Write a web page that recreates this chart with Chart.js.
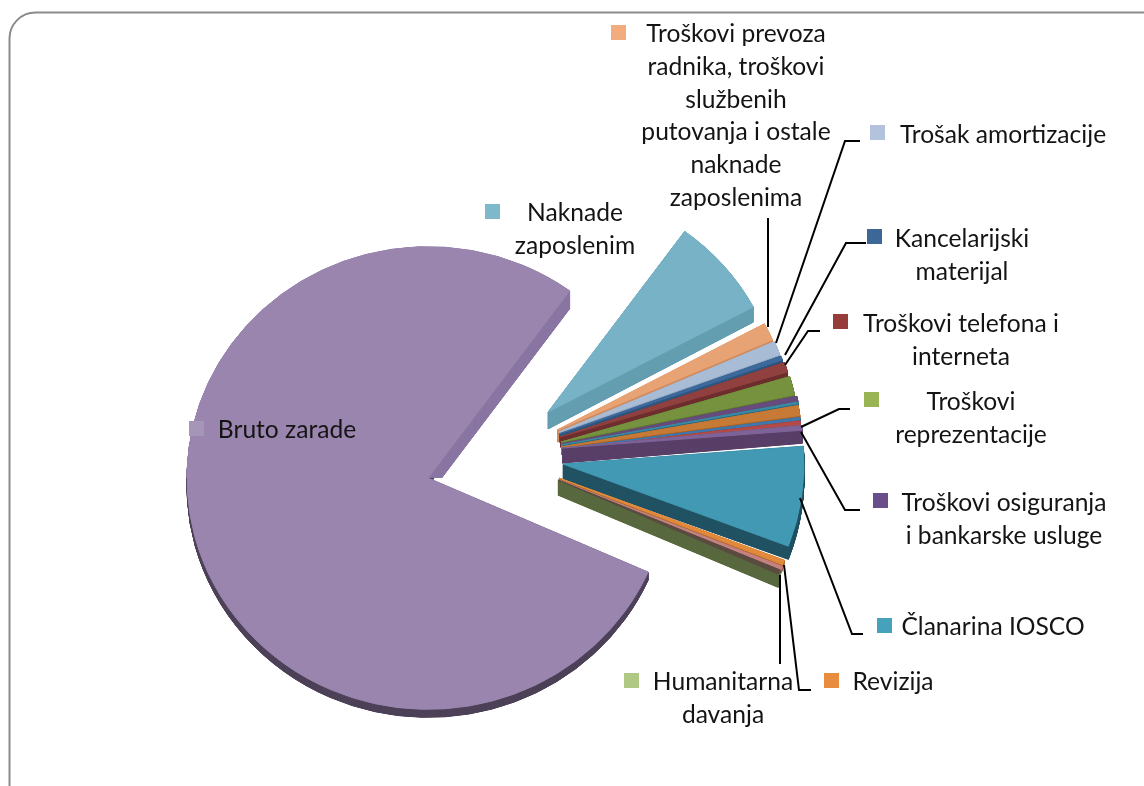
<!DOCTYPE html>
<html>
<head>
<meta charset="utf-8">
<style>
  html, body { margin: 0; padding: 0; background: #fff; overflow: hidden; }
  canvas { display: block; }
</style>
<script src="https://cdn.jsdelivr.net/npm/chart.js@4"></script>
</head>
<body>
<canvas id="pie" width="1144" height="786"></canvas>
<script>
"use strict";

// legend text, empty where the slice has no label in the picture
const categories = [
    "Bruto zarade", "Naknade zaposlenim",
    "Troškovi prevoza radnika, troškovi službenih putovanja i ostale naknade zaposlenima",
    "Trošak amortizacije", "Kancelarijski materijal", "Troškovi telefona i interneta",
    "Troškovi reprezentacije", "", "", "", "", "", "",
    "Troškovi osiguranja i bankarske usluge", "Članarina IOSCO", "Revizija", "", "Humanitarna davanja",
];
// percent
const shares = [78.3, 7.2, 1.25, 0.97, 0.28, 0.69, 1.3, 0.33, 0.11, 0.69, 0.17, 0.31, 0.14, 0.33, 7.0, 0.33, 0.25, 0.31];

const topColors = ["#9a85ae", "#78b2c6", "#e8a374", "#a9bcd5", "#3d6a9c", "#90403f", "#76923f", "#674b7d", "#3a8aa3",
    "#c77a35", "#3f78ae", "#b24a47", "#85a048", "#7e6398", "#4299b4", "#e28a3b", "#c58080", "#5a4a40"];
const sideColors = ["#8a76a3", "#659eb1", "#d18c5d", "#8fa3bd", "#2f5580", "#6e2f2e", "#5e7632", "#54406a", "#2c6a80",
    "#a5642a", "#2f5f8c", "#8c3936", "#6a8038", "#5a4069", "#235464", "#b06a2b", "#a06464", "#5a6a40"];

// how far each slice is pulled out of the pie centre, in px
const explode = [[-63, 18], [57, -48], [66, -30], [68, -28], [68, -26], [69, -23], [70, -18], [70, -16], [70, -15],
    [70, -13], [70, -11], [70, -10], [70, -9], [71, -12], [72, 4], [68, 18], [68, 20], [67, 20]];
// perspective makes the slices at the back a bit shorter
const reach = [1, 0.965, 0.975, 0.975, 0.98, 0.985, 0.99, 1, 1, 1, 1, 1, 1, 1, 1, 1, 1, 1];
// thickness of the side face at the apex and at the rim
const depthApex = [18, 17, 12, 10, 8, 10, 8, 6, 5, 7, 4, 4, 3, 15, 15, 4, 4, 15];
const depthRim = [18, 15, 7, 5, 4, 5, 5, 4, 3, 4, 3, 3, 3, 13, 13, 3, 3, 13];
const tilt = 0.96;

const legendItems = [
    { lines: ["Bruto zarade"], cx: 287, y: 430, box: [189, 421], color: "#a596b8" },
    { lines: ["Naknade", "zaposlenim"], cx: 575, y: 213, box: [485, 204], color: "#7db8cb" },
    { lines: ["Troškovi prevoza", "radnika, troškovi", "službenih", "putovanja i ostale", "naknade", "zaposlenima"], cx: 736, y: 34, box: [611, 25], color: "#f3ac7d" },
    { lines: ["Trošak amortizacije"], cx: 1003, y: 135, box: [870, 125], color: "#b3c3dd" },
    { lines: ["Kancelarijski", "materijal"], cx: 962, y: 239, box: [867, 229], color: "#3d6797" },
    { lines: ["Troškovi telefona i", "interneta"], cx: 961, y: 324, box: [833, 314], color: "#963d3b" },
    { lines: ["Troškovi", "reprezentacije"], cx: 971, y: 402, box: [864, 392], color: "#98b454" },
    { lines: ["Troškovi osiguranja", "i bankarske usluge"], cx: 1004, y: 503, box: [873, 493], color: "#6a4e8c" },
    { lines: ["Članarina IOSCO"], cx: 993, y: 627, box: [877, 618], color: "#46a1bc" },
    { lines: ["Revizija"], cx: 893, y: 682, box: [824, 673], color: "#e88d3f" },
    { lines: ["Humanitarna", "davanja"], cx: 723, y: 682, box: [624, 673], color: "#afc985" },
];
const leaders = [
    [[768, 218], [768, 327]],
    [[860, 141], [845, 141], [776, 343]],
    [[866, 243], [846, 243], [785, 355]],
    [[820, 331], [808, 331], [785, 365]],
    [[850, 409], [839, 409], [801, 427]],
    [[801, 432], [845, 510], [860, 510]],
    [[800, 498], [852, 634], [863, 634]],
    [[784, 565], [799, 690], [811, 690]],
    [[780, 575], [780, 664]],
];

// stacks shifted copies of the arc, the shift shrinks from apex to rim
function drawSide(ctx, arc, i, apex, rim, color) {
    const shade = Object.create(arc);
    shade.options = Object.assign({}, arc.options, { backgroundColor: color, borderColor: color });
    for (let k = apex; k > 0; k -= 0.25) {
        const t = k / apex;
        ctx.save();
        ctx.translate(arc.x + explode[i][0], arc.y + explode[i][1] + k);
        ctx.transform(1, -t * (apex - rim) / arc.outerRadius, 0, 1, 0, 0);
        ctx.scale(reach[i], tilt * reach[i]);
        ctx.translate(-arc.x, -arc.y);
        shade.draw(ctx);
        ctx.restore();
    }
}

const pie3d = {
    id: "pie3d",
    beforeDraw(chart) {
        const ctx = chart.ctx;
        ctx.save();
        ctx.strokeStyle = "#8b8b8b";
        ctx.lineWidth = 2;
        ctx.beginPath();
        ctx.roundRect(9.5, 12.5, 1200, 900, 26);
        ctx.stroke();
        ctx.restore();
    },
    beforeDatasetDraw(chart, args) {
        const ctx = chart.ctx;
        const arcs = args.meta.data;
        arcs.forEach((arc, i) => {
            if (i === 0) {
                // cut face up to the right, thin dark rim along the bottom
                ctx.save();
                ctx.beginPath();
                ctx.rect(0, 0, 1144, 478);
                ctx.clip();
                drawSide(ctx, arc, i, depthApex[i], depthRim[i], sideColors[i]);
                ctx.restore();
                ctx.save();
                ctx.beginPath();
                ctx.rect(0, 478, 1144, 308);
                ctx.clip();
                drawSide(ctx, arc, i, 8, 8, "#4d4258");
                ctx.restore();
            } else {
                drawSide(ctx, arc, i, depthApex[i], depthRim[i], sideColors[i]);
            }
            ctx.save();
            ctx.translate(arc.x + explode[i][0], arc.y + explode[i][1]);
            ctx.scale(reach[i], tilt * reach[i]);
            ctx.translate(-arc.x, -arc.y);
            arc.draw(ctx);
            ctx.restore();
        });
        return false;
    },
    afterDraw(chart) {
        const ctx = chart.ctx;
        ctx.save();
        ctx.strokeStyle = "#000";
        ctx.lineWidth = 2;
        leaders.forEach((pts) => {
            ctx.beginPath();
            pts.forEach((p, i) => (i ? ctx.lineTo(p[0], p[1]) : ctx.moveTo(p[0], p[1])));
            ctx.stroke();
        });
        ctx.font = '24.6px Lato';
        ctx.fillStyle = "#141414";
        ctx.textAlign = "center";
        ctx.textBaseline = "middle";
        legendItems.forEach((item) => {
            ctx.save();
            ctx.fillStyle = item.color;
            ctx.fillRect(item.box[0], item.box[1], 15, 15);
            ctx.restore();
            item.lines.forEach((line, i) => ctx.fillText(line, item.cx, item.y + i * 32.8));
        });
        ctx.restore();
    },
};

new Chart(document.getElementById("pie"), {
    type: "pie",
    data: {
        labels: categories,
        datasets: [{
            data: shares,
            backgroundColor: topColors,
            borderColor: topColors,
            borderWidth: 1,
        }],
    },
    options: {
        responsive: false,
        animation: false,
        rotation: 114,
        radius: 241,
        layout: { padding: { top: 134, right: 162 } },
        plugins: {
            legend: { display: false },
            tooltip: { enabled: false },
        },
    },
    plugins: [pie3d],
});
</script>
</body>
</html>
